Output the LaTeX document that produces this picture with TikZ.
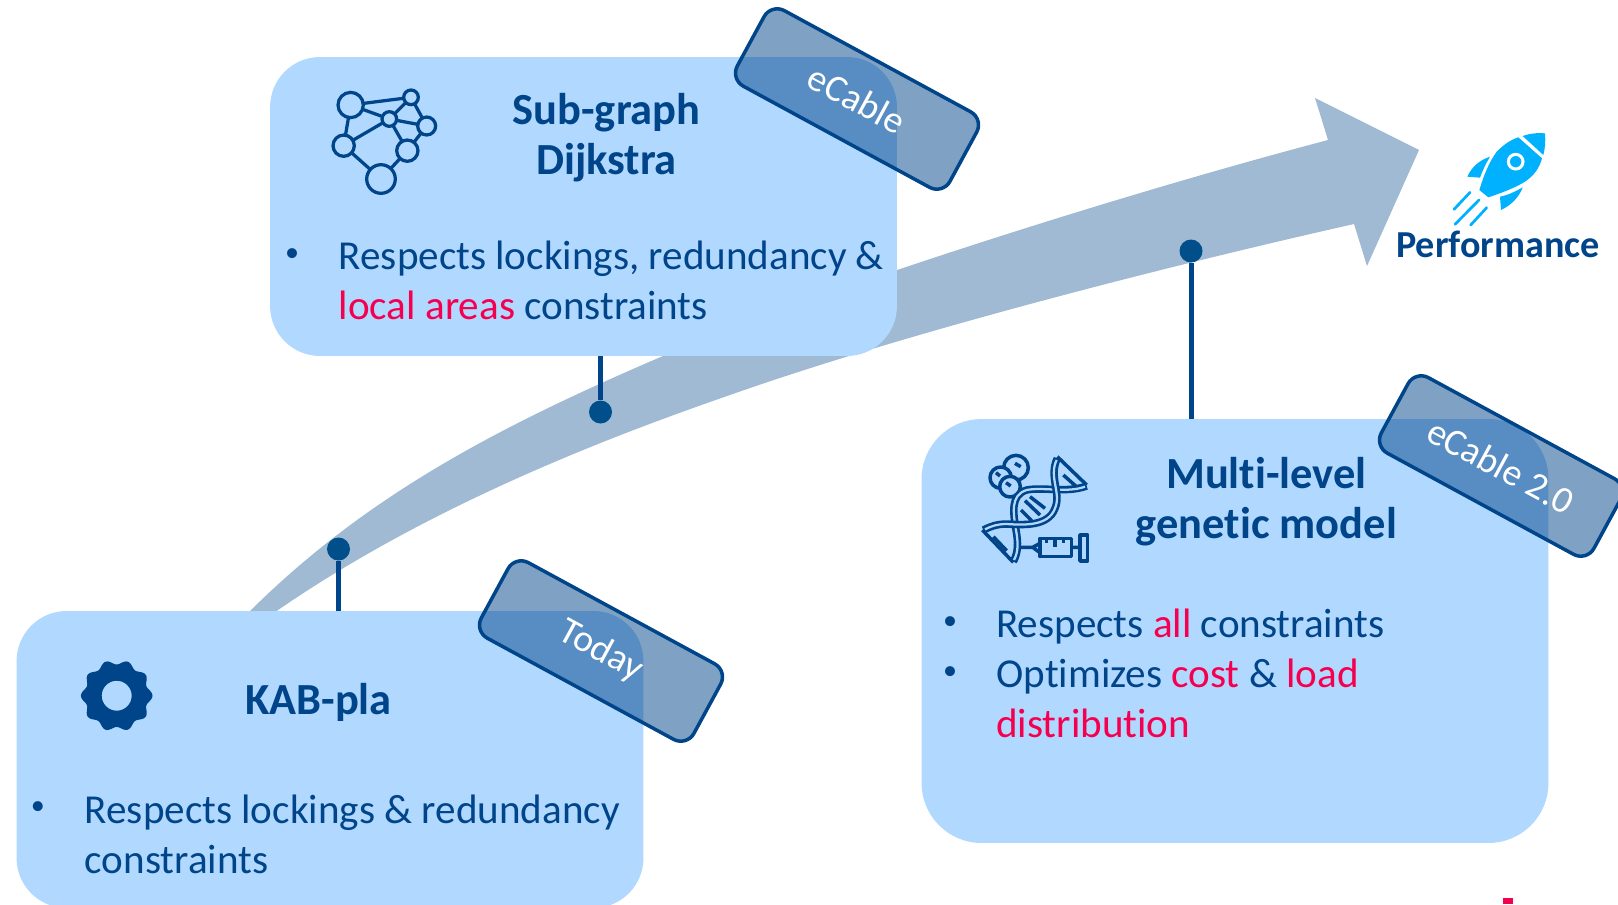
\documentclass[tikz,border=0pt]{standalone}
\usepackage{fontspec}
\setmainfont[Ligatures=NoCommon]{Carlito}
\usepackage{tikz}
\usetikzlibrary{positioning}
\definecolor{boxblue}{HTML}{B1D8FF}
\definecolor{trackblue}{HTML}{A0BAD4}
\definecolor{inkblue}{HTML}{004489}
\definecolor{dotblue}{HTML}{004F8A}
\definecolor{rocketblue}{HTML}{00B1FF}
\definecolor{hotred}{HTML}{F5004F}

\begin{document}
\begin{tikzpicture}[x=.02cm,y=-.02cm,
panel/.style={fill=boxblue,rectangle,minimum width=12.54cm,rounded corners=1cm},
tag/.style={draw=inkblue,line width=.07cm,fill=inkblue,fill opacity=.5,text opacity=1,draw opacity=1,
    rectangle,rounded corners=.3cm,minimum width=4.84cm,minimum height=1.72cm,rotate=-28.5,
    text=white,font=\fontsize{21.5}{28}\selectfont},
title/.style={text=inkblue,align=center,font=\fontsize{25.3}{28.45}\selectfont\bfseries},
body/.style={text=inkblue,align=left,anchor=west,inner sep=0pt,font=\fontsize{23.4}{28.45}\selectfont},
bullet/.style={text=inkblue,inner sep=0pt,font=\fontsize{16}{20}\selectfont},
pin/.style={fill=dotblue,circle,inner sep=0pt,minimum size=.46cm},
stem/.style={draw=inkblue,line width=.1cm},
gnode/.style={draw=inkblue,line width=.065cm,fill=boxblue,circle,inner sep=0pt},
gedge/.style={draw=inkblue,line width=.065cm},
helix/.style={draw=inkblue,line width=.07cm,line join=round}]
\useasboundingbox (0,0) rectangle (1618,904);

\fill [trackblue] (244,617) .. controls (360,500) and (490,430) .. (663,356)
    .. controls (800,298) and (1100,200) .. (1328,140)
    -- (1315,98) -- (1419,150) -- (1367,266) -- (1354,224)
    .. controls (1150,270) and (900,335) .. (730,395)
    .. controls (600,440) and (420,510) .. (268,617) -- cycle;

\node (kabbox) [panel,minimum height=5.94cm] at (330,759.5) {};
\node (subbox) [panel,minimum height=5.98cm] at (583.5,206.5) {};
\node (multibox) [panel,minimum height=8.48cm,rounded corners=1.2cm] at (1235,631) {};

\node (kabpin) [pin] at (338.5,549) {};
\node (subpin) [pin] at (600.5,412) {};
\node (multipin) [pin] at (1191,251) {};
\draw [stem] (kabpin) -- (kabpin |- kabbox.north);
\draw [stem] (subpin) -- (subpin |- subbox.south);
\draw [stem] (multipin) -- (multipin |- multibox.north);

\node (kabtitle) [title] at (318.5,702) {KAB-pla};
\node (subtitle) [title] at (606.5,138) {Sub-graph \\ Dijkstra};
\node (multititle) [title] at (1266.5,502) {Multi-level \\ genetic model};

\node (kabdot) [bullet] at (38,808) {•};
\node (kabtext) [body] at (84.5,834) {Respects lockings \& redundancy \\ constraints};
\node (subdot) [bullet] at (292,255) {•};
\node (subtext) [body] at (338.5,280.5) {Respects lockings, redundancy \& \\ \textcolor{hotred}{local areas} constraints};
\node (multidotone) [bullet] at (950,623) {•};
\node (multitextone) [body] at (996,627) {Respects \textcolor{hotred}{all} constraints};
\node (multidottwo) [bullet] at (950,673) {•};
\node (multitexttwo) [body] at (996,698.5) {Optimizes \textcolor{hotred}{cost} \& \textcolor{hotred}{load} \\ \textcolor{hotred}{distribution}};

\node (kabtag) [tag] at (601,651) {Today};
\node (subtag) [tag] at (857,99) {eCable};
\node (multitag) [tag] at (1501,466) {eCable 2.0};

\node (perf) [title,font=\fontsize{21.7}{26}\selectfont\bfseries] at (1498,244) {Performance};

\begin{scope}[shift={(300,60)},scale=1/3]
\foreach \n/\x/\y/\r in {a/152/135/38,b/333/112/22,c/268/177/22,d/380/198/27,e/131/257/32,f/322/272/32,g/243/357/43}
    \coordinate (g\n) at (\x,\y);
\draw [gedge] (ga) -- (gb) (ga) -- (gc) (ga) -- (ge) (gb) -- (gc) (gb) -- (gd) (gc) -- (gd)
    (gc) -- (ge) (gc) -- (gf) (gd) -- (gf) (ge) -- (gg) (gf) -- (gg);
\foreach \n/\x/\y/\r in {a/152/135/38,b/333/112/22,c/268/177/22,d/380/198/27,e/131/257/32,f/322/272/32,g/243/357/43}
    \node (n\n) [gnode,minimum size=\r*.0133cm] at (\x,\y) {};
\end{scope}

\fill [inkblue,even odd rule] plot[domain=0:358,samples=120,smooth] ({116.7+(33.5+2.3*cos(10*\x))*cos(\x)},{695.7+(33.5+2.3*cos(10*\x))*sin(\x)}) -- cycle
    (116.7,695.7) circle (15);

\begin{scope}[shift={(950,430)},scale=1/3]
\foreach \x/\y/\r in {198/113/37,152/143/32,180/170/31}
    \draw [helix,fill=boxblue] (\x,\y) circle (\r);
\draw [helix] (195,100) -- (212,110) (138,128) -- (150,138) (168,158) -- (182,168);
\draw [helix] (322,80) -- (410,165) (97,300) -- (190,397);
\draw [helix] (340,135) -- (385,175) (130,320) -- (170,362);
\draw [helix] (225,212) -- (270,255) (213,240) -- (245,272) (240,200) -- (285,235);
\draw [inkblue,line width=.15cm] (410,168) .. controls (350,190) and (280,170) .. (230,180)
    .. controls (180,195) and (190,250) .. (198,300) .. controls (205,340) and (205,365) .. (190,395);
\draw [boxblue,line width=.045cm] (405,170) .. controls (350,190) and (280,170) .. (230,180)
    .. controls (180,195) and (190,250) .. (198,300) .. controls (205,340) and (205,365) .. (192,390);
\draw [inkblue,line width=.15cm] (322,85) .. controls (295,140) and (335,190) .. (315,235)
    .. controls (295,290) and (220,285) .. (170,282) .. controls (140,282) and (120,290) .. (100,300);
\draw [boxblue,line width=.045cm] (320,90) .. controls (295,140) and (335,190) .. (315,235)
    .. controls (295,290) and (220,285) .. (170,282) .. controls (140,282) and (120,290) .. (105,298);
\draw [helix] (270,325) rectangle (365,380) (390,315) rectangle (413,393);
\draw [helix] (210,352) -- (248,352) (270,340) -- (248,352) -- (270,368) (365,352) -- (390,352);
\draw [helix] (290,325) -- (290,340) (315,325) -- (315,350) (340,325) -- (340,340);
\end{scope}

\begin{scope}[shift={(1380,80)},scale=1/3]
\fill [rocketblue] (428,168) .. controls (450,160) and (475,158) .. (495,160) .. controls (497,185) and (495,205) .. (490,225) -- cycle;
\fill [rocketblue] (415,172) -- (486,235) .. controls (478,265) and (460,290) .. (430,308) .. controls (395,328) and (355,342) .. (325,352)
    -- (298,330) .. controls (310,290) and (325,250) .. (350,215) .. controls (370,195) and (390,180) .. (415,172) -- cycle;
\fill [rocketblue] (330,230) .. controls (300,240) and (275,260) .. (262,290) -- (300,293) .. controls (308,270) and (318,250) .. (330,230) -- cycle;
\fill [rocketblue] (428,322) .. controls (418,350) and (395,375) .. (363,390) -- (360,350) .. controls (385,345) and (405,335) .. (428,322) -- cycle;
\draw [white,line width=.06cm,fill=rocketblue] (407,245) circle (22);
\draw [rocketblue,line width=.055cm,line cap=round] (270,337) -- (222,388) (297,360) -- (225,433) (320,383) -- (272,435);
\end{scope}

\fill [hotred] (1503,898) rectangle (1513,904);
\end{tikzpicture}
\end{document}
